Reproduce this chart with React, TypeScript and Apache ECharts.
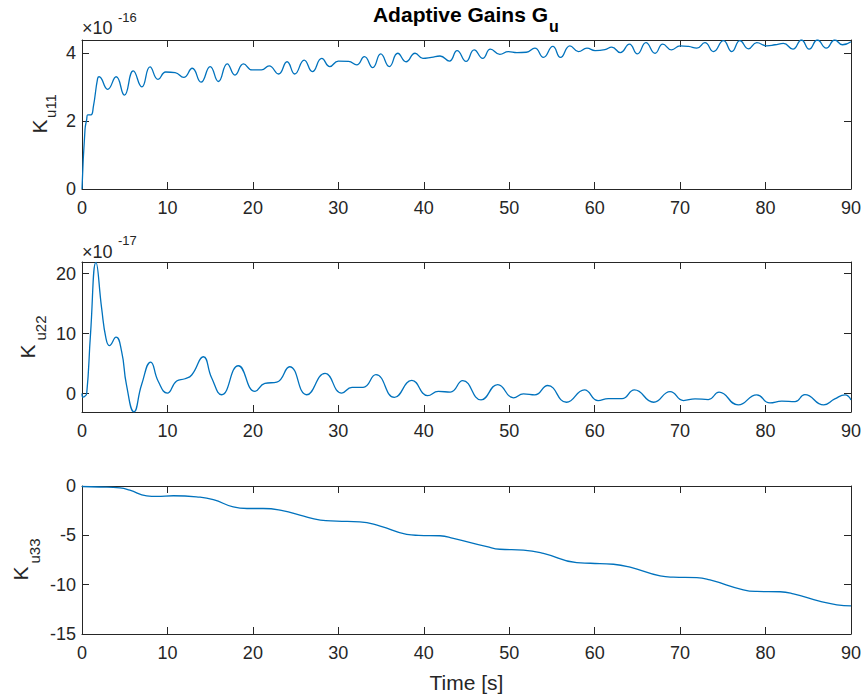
import React, { useEffect, useRef } from "react";
import * as echarts from "echarts";

// ---- data ----
const timeTicks = [0, 10, 20, 30, 40, 50, 60, 70, 80, 90];
const ku11Ticks = [0, 2, 4];
const ku22Ticks = [0, 10, 20];
const ku33Ticks = [0, -5, -10, -15];

// K_u11 (x 1e-16): [time, value]
const ku11: [number, number][] = [
  [0, 0], [0.35, 1.74], [0.55, 2.05], [0.66, 2.18], [1.05, 2.18], [1.33, 2.42], [1.83, 3.25], [2.0, 3.3],
  [3.0, 2.93], [4.0, 3.3], [4.96, 2.76], [6.0, 3.47], [7.0, 3.0], [7.96, 3.59], [8.9, 3.22], [9.8, 3.44],
  [10.9, 3.42], [11.9, 3.28], [12.9, 3.55], [13.93, 3.14], [15.0, 3.6], [15.96, 3.16], [17.0, 3.68],
  [17.9, 3.35], [18.9, 3.68], [19.9, 3.5], [21.0, 3.5], [21.9, 3.62], [23.0, 3.38], [24.0, 3.74],
  [24.9, 3.38], [26.0, 3.79], [26.96, 3.45], [28.06, 3.84], [29.0, 3.6], [30.0, 3.76], [31.2, 3.75],
  [32.15, 3.65], [33.05, 3.89], [34.03, 3.57], [34.96, 3.97], [35.97, 3.6], [36.95, 3.99], [37.93, 3.74],
  [38.98, 3.99], [39.9, 3.84], [40.9, 3.87], [41.9, 3.91], [43.0, 3.76], [43.9, 4.07], [44.95, 3.75],
  [45.9, 4.09], [46.9, 3.84], [47.8, 4.11], [48.9, 3.96], [49.9, 4.04], [50.9, 4.01], [52.0, 4.02],
  [53.0, 4.14], [54.0, 3.87], [55.1, 4.19], [56.0, 3.87], [57.1, 4.21], [58.1, 4.04], [59.1, 4.14],
  [60.05, 4.07], [61.2, 4.1], [62.0, 4.17], [63.0, 4.01], [64.07, 4.26], [65.0, 3.97], [66.0, 4.3],
  [67.07, 3.99], [67.97, 4.26], [69.0, 4.09], [70.0, 4.21], [71.0, 4.19], [71.95, 4.14], [72.9, 4.3],
  [73.9, 4.04], [75.07, 4.36], [76.05, 4.04], [77.0, 4.36], [78.0, 4.12], [78.97, 4.3], [80.15, 4.21],
  [81.1, 4.24], [82.1, 4.28], [83.2, 4.11], [84.2, 4.38], [85.1, 4.11], [86.07, 4.38], [87.1, 4.14],
  [88.1, 4.38], [89.0, 4.24], [90, 4.33],
];

// K_u22 (x 1e-17): [time, value]
const ku22: [number, number][] = [
  [0, 0], [0.1, -0.6], [0.3, -0.5], [0.55, 0], [1.0, 10], [1.64, 21.9], [2.3, 14.2], [2.8, 9.25],
  [3.2, 8.0], [3.98, 9.4], [4.64, 7.0], [5.2, 1.5], [6.08, -3.05], [6.98, 1.5], [8.04, 5.25], [8.93, 2.0],
  [9.98, 0.08], [11.08, 2.1], [12.06, 2.47], [12.84, 3.1], [14.2, 6.14], [15.18, 2.6], [16.35, -0.2],
  [18.3, 4.64], [20.25, 0.36], [21.4, 1.7], [22.8, 1.9], [24.3, 4.47], [26.3, -0.2], [28.45, 3.36],
  [30.4, 0.08], [31.6, 1.03], [32.9, 1.03], [34.4, 3.14], [36.56, -0.64], [38.6, 2.2], [40.46, -0.36],
  [41.7, 0.36], [43.1, 0.25], [44.56, 2.14], [46.7, -1.05], [48.66, 1.5], [50.5, -0.72], [51.66, -0.05],
  [53.0, -0.22], [54.5, 1.34], [56.7, -1.45], [58.8, 0.62], [60.4, -1.17], [61.6, -0.84], [63.2, -0.84],
  [64.65, 0.62], [66.9, -1.45], [68.83, 0.33], [70.4, -1.17], [71.75, -0.89], [73.3, -1.0], [74.56, 0.22],
  [76.8, -1.9], [78.97, -0.22], [80.5, -1.56], [81.9, -1.28], [83.45, -1.34], [84.6, -0.17], [86.8, -1.9],
  [88.1, -0.9], [89.3, -0.22], [90, -1.05],
];

// K_u33: [time, value]
const ku33: [number, number][] = [
  [0, -0.05], [2, -0.1], [4.45, -0.2], [5.6, -0.43], [7.57, -1.0], [8.74, -1.06], [10.7, -0.99],
  [13.4, -1.1], [15.37, -1.38], [17.7, -2.12], [19.3, -2.28], [21.2, -2.28], [23.6, -2.52], [25.5, -2.96],
  [27.9, -3.46], [29.8, -3.56], [32.5, -3.63], [34.9, -4.07], [38.0, -4.9], [39.4, -5.0], [41.9, -5.04],
  [43.46, -5.3], [47.4, -6.15], [48.9, -6.41], [51.66, -6.49], [54.0, -6.82], [57.9, -7.77], [59.5, -7.83],
  [62.2, -7.93], [64.15, -8.23], [67.66, -9.11], [69.2, -9.24], [71.95, -9.28], [73.5, -9.52],
  [77.4, -10.52], [78.97, -10.69], [81.7, -10.72], [83.26, -10.93], [86.4, -11.7], [88.35, -12.04],
  [90, -12.14],
];

const yRanges: [number, number][] = [
  [0, 4.38],
  [-3.08, 21.95],
  [-15, 0],
];

const FONT = "'Liberation Sans', Arial, Helvetica, sans-serif";
const AX = "#262626";
const LINE = "#0072BD";

const grids = [
  { left: 82, top: 40, width: 769, height: 149 },
  { left: 82, top: 262, width: 769, height: 150 },
  { left: 82, top: 486, width: 769, height: 148 },
];

function buildOption() {
  const yTicks = [ku11Ticks, ku22Ticks, ku33Ticks];
  const seriesData = [ku11, ku22, ku33];
  const xAxis: any[] = [];
  const yAxis: any[] = [];
  const series: any[] = [];
  grids.forEach((_, i) => {
    ["bottom", "top"].forEach((pos) => {
      xAxis.push({
        type: "value",
        gridIndex: i,
        position: pos,
        min: 0,
        max: 90,
        axisLine: { show: true, onZero: false, lineStyle: { color: AX, width: 1 } },
        axisTick: { show: true, inside: true, length: 7, customValues: timeTicks, lineStyle: { color: AX, width: 1 } },
        axisLabel: {
          show: pos === "bottom",
          customValues: timeTicks,
          color: AX,
          fontSize: 18,
          fontFamily: FONT,
          margin: 10,
        },
        splitLine: { show: false },
      });
    });
    ["left", "right"].forEach((pos) => {
      yAxis.push({
        type: "value",
        gridIndex: i,
        position: pos,
        min: yRanges[i][0],
        max: yRanges[i][1],
        axisLine: { show: true, onZero: false, lineStyle: { color: AX, width: 1 } },
        axisTick: { show: true, inside: true, length: 7, customValues: yTicks[i], lineStyle: { color: AX, width: 1 } },
        axisLabel: {
          show: pos === "left",
          customValues: yTicks[i],
          color: AX,
          fontSize: 18,
          fontFamily: FONT,
          margin: 6,
        },
        splitLine: { show: false },
      });
    });
    series.push({
      type: "line",
      xAxisIndex: i * 2,
      yAxisIndex: i * 2,
      data: seriesData[i],
      showSymbol: false,
      smooth: 0.5,
      clip: true,
      lineStyle: { color: LINE, width: 1.3 },
    });
  });

  const t = (text: string, x: number, y: number, size: number, opts: any = {}) => ({
    type: "text",
    x,
    y,
    rotation: opts.rotation || 0,
    style: {
      text,
      fill: opts.fill || AX,
      font: `${opts.bold ? "bold " : ""}${size}px ${FONT}`,
      textAlign: opts.align || "left",
      textVerticalAlign: "middle",
    },
  });
  const R = Math.PI / 2;

  const graphic = [
    // title
    t("Adaptive Gains G", 548, 14.7, 21, { bold: true, align: "right", fill: "#000" }),
    t("u", 549, 26, 16, { bold: true, fill: "#000" }),
    // exponents
    t("\u00d710", 82, 27.5, 18),
    t("-16", 118, 17, 13),
    t("\u00d710", 82, 251.7, 18),
    t("-17", 118, 240.5, 13),
    // y labels
    t("K", 39, 126.5, 21, { align: "center", rotation: R }),
    t("u11", 50, 106, 15, { align: "center", rotation: R }),
    t("K", 27.5, 351.5, 21, { align: "center", rotation: R }),
    t("u22", 40, 328, 15, { align: "center", rotation: R }),
    t("K", 20.5, 573.5, 21, { align: "center", rotation: R }),
    t("u33", 34.5, 551, 15, { align: "center", rotation: R }),
    // x label
    t("Time [s]", 466.5, 682.5, 21, { align: "center" }),
  ];

  return {
    animation: false,
    backgroundColor: "#ffffff",
    grid: grids.map((g) => ({ ...g, containLabel: false })),
    xAxis,
    yAxis,
    series,
    graphic,
  };
}

export default function App() {
  const ref = useRef<HTMLDivElement>(null);
  useEffect(() => {
    if (!ref.current) return;
    const chart = echarts.init(ref.current, undefined, { renderer: "svg" });
    chart.setOption(buildOption() as any);
    return () => chart.dispose();
  }, []);
  return (
    <div
      ref={ref}
      style={{ position: "fixed", left: 0, top: 0, width: 866, height: 698, background: "#fff" }}
    />
  );
}
